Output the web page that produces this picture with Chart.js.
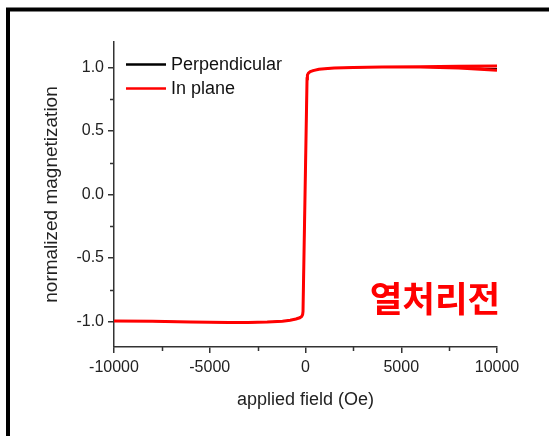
<!DOCTYPE html>
<html><head><meta charset="utf-8">
<script src="https://cdn.jsdelivr.net/npm/chart.js@4"></script>
<style>html,body{margin:0;padding:0;background:#fff;overflow:hidden}#wrap{width:549px;height:436px}</style>
</head><body><div id="wrap"><canvas id="c" width="549" height="436"></canvas></div>
<script>
// ---- data ----
// In-plane loop: increasing-field branch
const fieldUp = [-10000,-8000,-6000,-4000,-3000,-2000,-1200,-800,-500,-300,-200,-150,-130,80,100,150,250,400,700,1000,1500,2500,4000,6000,8000,10000];
const magUp   = [-0.995,-0.998,-1.004,-1.007,-1.007,-1.004,-0.998,-0.99,-0.98,-0.97,-0.96,-0.945,-0.92,0.91,0.94,0.955,0.967,0.975,0.985,0.99,0.996,1.0,1.003,1.004,0.995,0.978];
// In-plane loop: decreasing-field branch (separates only at high field)
const fieldDown = [10000,8000,6000,4000];
const magDown   = [1.012,1.009,1.006,1.003];
// Perpendicular curve lies hidden underneath the in-plane curve
const perpField = [-10000,-8000,-6000,-4000,-3000,-2000,-1200,-800,-500,-300,-200,-150,-130,80,100,150,250,400,700,1000,1500,2500,4000,6000,8000,10000];
const perpMag   = [-0.995,-0.998,-1.004,-1.007,-1.007,-1.004,-0.998,-0.99,-0.98,-0.97,-0.96,-0.945,-0.92,0.91,0.94,0.955,0.967,0.975,0.985,0.99,0.996,1.0,1.003,1.004,0.995,0.99];

const seriesLabels = ['Perpendicular','In plane'];
const seriesColors = ['#000000','#ff0000'];
const xTickValues = [-10000,-5000,0,5000,10000];
const xMinorTicks = [-7500,-2500,2500,7500];
const yTickValues = [-1.0,-0.5,0.0,0.5,1.0];
const yMinorTicks = [-0.75,-0.25,0.25,0.75];
const xTitle = 'applied field (Oe)';
const yTitle = 'normalized magnetization';
const annotationText = '열처리전';

// ---- build datasets ----
const inPlanePts = fieldUp.map((x,i)=>({x:x,y:magUp[i]}))
  .concat([{x:10000,y:null}])
  .concat(fieldDown.map((x,i)=>({x:x,y:magDown[i]})));
const perpPts = perpField.map((x,i)=>({x:x,y:perpMag[i]}));

const FONT = "'Liberation Sans', Arial, sans-serif";

const framePlugin = {
  id:'frame',
  beforeDraw(chart){
    const ctx = chart.ctx;
    ctx.save();
    ctx.fillStyle='#fff';
    ctx.fillRect(0,0,chart.width,chart.height);
    ctx.strokeStyle='#000';
    ctx.lineWidth=4;
    ctx.strokeRect(8,9.5,700,600);
    ctx.restore();
  }
};

const minorPlugin = {
  id:'minor',
  afterDraw(chart){
    const ctx = chart.ctx, xs = chart.scales.x, ys = chart.scales.y;
    ctx.save();
    ctx.strokeStyle='#333'; ctx.lineWidth=1.5;
    ctx.beginPath();
    xMinorTicks.forEach(v=>{const p=Math.round(xs.getPixelForValue(v))+0.5; ctx.moveTo(p,ys.bottom); ctx.lineTo(p,ys.bottom+4);});
    yMinorTicks.forEach(v=>{const p=Math.round(ys.getPixelForValue(v))+0.5; ctx.moveTo(xs.left,p); ctx.lineTo(xs.left-4,p);});
    ctx.stroke();
    ctx.restore();
  }
};

const legendPlugin = {
  id:'customLegend',
  afterDraw(chart){
    const ctx = chart.ctx, area = chart.chartArea;
    ctx.save();
    ctx.font = '18px ' + FONT;
    ctx.textBaseline='middle';
    ctx.textAlign='left';
    chart.data.datasets.forEach((ds,i)=>{
      const y = area.top + 22.5 + i*24;
      const x0 = area.left + 12;
      ctx.strokeStyle = ds.borderColor; ctx.lineWidth = 2.5;
      ctx.beginPath(); ctx.moveTo(x0,y); ctx.lineTo(x0+40,y); ctx.stroke();
      ctx.fillStyle='#111';
      ctx.fillText(ds.label, x0+45, y+1);
    });
    ctx.restore();
  }
};

const annotPlugin = {
  id:'annot',
  afterDraw(chart){
    const ctx = chart.ctx, xs = chart.scales.x, ys = chart.scales.y;
    ctx.save();
    ctx.font = "bold 35.5px 'Noto Sans CJK KR', sans-serif";
    ctx.fillStyle='#ff0000';
    ctx.textAlign='center'; ctx.textBaseline='middle';
    ctx.fillText(annotationText, xs.getPixelForValue(6760), ys.getPixelForValue(-0.82));
    ctx.restore();
  }
};

new Chart(document.getElementById('c'), {
  type:'line',
  data:{
    datasets:[
      {label:seriesLabels[0], data:perpPts, borderColor:seriesColors[0], borderWidth:1.5, pointRadius:0, tension:0, order:2},
      {label:seriesLabels[1], data:inPlanePts, borderColor:seriesColors[1], borderWidth:3, pointRadius:0, tension:0, spanGaps:false, order:1}
    ]
  },
  options:{
    responsive:false, animation:false, devicePixelRatio:1,
    layout:{padding:{left:0,top:42,right:52,bottom:0}},
    plugins:{legend:{display:false}, tooltip:{enabled:false}},
    scales:{
      x:{
        type:'linear', min:-10000, max:10000,
        afterBuildTicks(s){ s.ticks = xTickValues.map(v=>({value:v})); },
        afterFit(s){ s.height = 89; },
        ticks:{callback:v=>String(v), color:'#222', font:{family:FONT,size:16}, padding:5, maxRotation:0, autoSkip:false},
        grid:{drawOnChartArea:false, drawTicks:true, tickLength:6, color:'#333', lineWidth:1.5},
        border:{color:'#333', width:1.5},
        title:{display:true, text:xTitle, color:'#222', font:{family:FONT,size:18}, padding:{top:0,bottom:25}}
      },
      y:{
        type:'linear', min:-1.2, max:1.2,
        afterBuildTicks(s){ s.ticks = yTickValues.map(v=>({value:v})); },
        afterFit(s){ s.width = 114; },
        ticks:{callback:v=>v.toFixed(1), color:'#222', font:{family:FONT,size:16}, padding:4, autoSkip:false},
        grid:{drawOnChartArea:false, drawTicks:true, tickLength:6, color:'#333', lineWidth:1.5},
        border:{color:'#333', width:1.5},
        title:{display:true, text:yTitle, color:'#222', font:{family:FONT,size:19}, padding:{top:40,bottom:0}}
      }
    }
  },
  plugins:[framePlugin, minorPlugin, legendPlugin, annotPlugin]
});
</script></body></html>
